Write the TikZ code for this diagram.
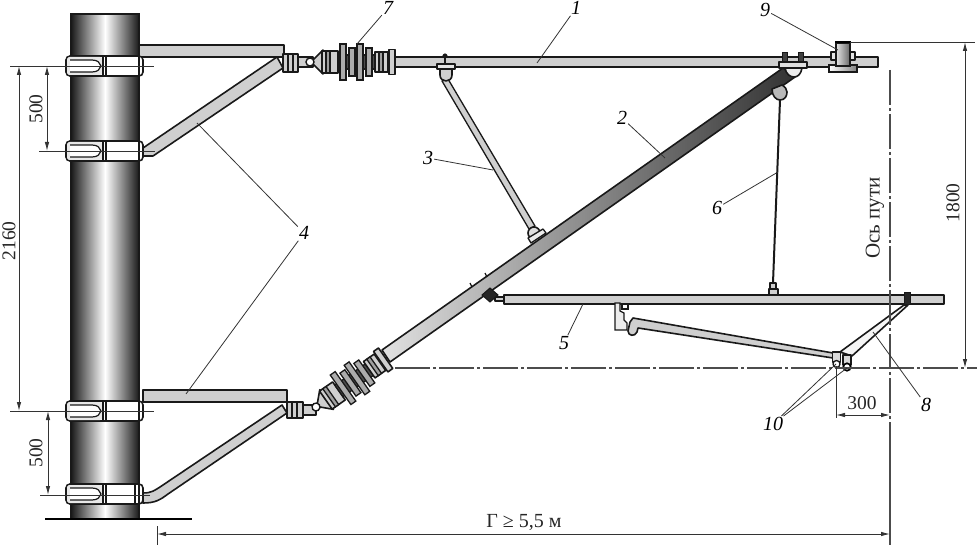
\documentclass[tikz,border=0pt]{standalone}
\usepackage{fontspec}
\setmainfont{Liberation Serif}
\usetikzlibrary{arrows.meta}
\tikzset{
	part/.style={draw=black!90,fill=gray!38,line width=1.6pt,line join=round},
	thinpart/.style={draw=black!90,fill=gray!60,line width=1.3pt},
	darkpart/.style={draw=black!90,fill=black!75,line width=1pt},
	leader/.style={draw=black!80,line width=0.8pt},
	dimline/.style={draw=black!80,line width=0.9pt,>={Latex[length=9pt,width=4.5pt]}},
	axisline/.style={draw=black!70,line width=1.1pt,dash pattern=on 35pt off 3pt on 3pt off 3pt},
	numlabel/.style={inner sep=1pt,font=\itshape\fontsize{20}{20}\selectfont},
	dimlabel/.style={inner sep=0pt,font=\fontsize{19.5}{20}\selectfont,text=black!85}
}
% insulator lying along the local x axis, eye at the origin
\newcommand{\insulatorbody}{
	\draw[part] (3,-2) -- (13,-12) -- (13,12) -- (3,2) -- cycle;
	\draw[part] (12,-11) rectangle (28,11);
	\draw[thinpart,fill=gray!75] (16,-11) rectangle (20,11);
	\draw[thinpart,fill=black!70] (28,-7) rectangle (66,7);
	\foreach \dx/\dh in {33/18,42/14,50/18,59/14}
		\draw[thinpart,fill=gray!65] (\dx-3,-\dh) rectangle (\dx+3,\dh);
	\draw[part] (65,-10) rectangle (78,10);
	\draw[thinpart,fill=gray!75] (69,-10) rectangle (73,10);
	\draw[part] (79,-12.5) rectangle (85,12.5);
}
\begin{document}
\begin{tikzpicture}[x=1pt,y=-1pt]
\useasboundingbox (0,0) rectangle (977,545);
% pole
\shade[left color=black!90,right color=black!90,middle color=white] (71,14) rectangle (139,519);
\draw[black!90,line width=1.4pt] (71,519) -- (71,14) -- (139,14) -- (139,519);
\draw[black,line width=1.8pt] (45,519) -- (192,519);

% horizontal brackets and struts
\draw[part] (139,45) rectangle (284,57);
\draw[part] (143,148) -- (277,57) -- (283,68) -- (153,156) -- (143,156) -- cycle;
\draw[part] (143,390) rectangle (287,402);
\draw[part] (143,493) .. controls (152,493) and (155,490) .. (160,487) -- (282,405)
	-- (287,413) -- (168,494) .. controls (160,500) and (155,503) .. (143,503) -- cycle;

% band clamps on the pole
\foreach \cy in {66,151,411,494}{
	\begin{scope}[shift={(0,\cy)}]
		\draw[fill=white,draw=black!90,line width=1.6pt,rounded corners=4pt] (66,-10) rectangle (143,10);
		\fill[gray!18,rounded corners=3pt] (67,-9) rectangle (103,9);
		\draw[fill=white,draw=black!90,line width=1.2pt] (70,-6) -- (92,-6) .. controls (98,-6) and (100,-3) .. (101,0)
			.. controls (100,3) and (98,6) .. (92,6) -- (70,6);
		\draw[black!90,line width=1.2pt] (103,-10) -- (103,10) (106,-10) -- (106,10) (139,-10) -- (139,10);
	\end{scope}
}
\draw[black!90,line width=1.2pt] (135,484) -- (135,504);

% upper insulator and rod 1
\draw[part] (395,57) rectangle (878,67);
\draw[part] (297,57) rectangle (313,67);
\draw[part] (283,54) rectangle (298,72);
\draw[black!90,line width=1.2pt] (288,54) -- (288,72) (293,54) -- (293,72);
\begin{scope}[shift={(310,62)}]
	\insulatorbody
	\draw[fill=white,draw=black!90,line width=1.4pt] (0,0) circle (4);
\end{scope}

% main rod 2 with lower insulator
\draw[draw=black!90,line width=1.6pt,left color=black!12,right color=black!80,line join=round]
	(382,350) -- (783,68) -- (795,77) -- (390,362) -- cycle;
\draw[part] (303,405) rectangle (316,415);
\draw[part] (287,402) rectangle (303,418);
\draw[black!90,line width=1.2pt] (292,402) -- (292,418) (297,402) -- (297,418);
\begin{scope}[shift={(316,407)},rotate=35]
	\insulatorbody
	\draw[fill=white,draw=black!90,line width=1.4pt] (0,0) circle (4);
\end{scope}
\draw[black!90,line width=1.2pt] (472,287) -- (470,283) (487,277) -- (485,273);

% strut 3 with its fittings
\draw[part,line width=1.3pt] (442,81) -- (448,79) -- (535,226) -- (529,229) -- cycle;
\draw[black!90,fill=black!90] (445,56) circle (2.3);
\draw[black!90,line width=1.2pt] (445,56) -- (445,64);
\draw[part,fill=gray!20] (437,64) rectangle (455,69);
\draw[part] (440,69) -- (440,75) .. controls (440,79) and (443,81) .. (446,81)
	.. controls (449,81) and (452,79) .. (452,75) -- (452,69) -- cycle;
\draw[part,fill=gray!25] (534,233) circle (6);
\draw[part,fill=gray!15,line width=1.3pt] (528,238) -- (543,229) -- (546,233) -- (531,243) -- cycle;

% head of rod 2 and clamp on rod 1
\draw[darkpart] (782,53) rectangle (787,62) (798,53) rectangle (803,62);
\draw[part,fill=gray!15] (785,68) .. controls (786,74) and (790,77) .. (794,77)
	.. controls (798,77) and (801,74) .. (802,68) -- cycle;
\draw[part,fill=gray!25] (779,62) rectangle (807,68);
\draw[part,fill=gray!55] (772,89) .. controls (772,96) and (776,100) .. (780,100)
	.. controls (785,100) and (787,96) .. (787,92) .. controls (787,89) and (785,87) .. (782,85) -- cycle;

% hanger 6
\draw[black!90,line width=2pt] (780,100) -- (773,283);
\draw[part,line width=1.2pt] (770,283) rectangle (776,290);
\draw[part,line width=1.2pt] (769,289) rectangle (778,295);

% clamp 9
\draw[draw=black!90,line width=1.5pt,left color=white,right color=black!50] (829,65) rectangle (857,72);
\draw[part,fill=gray!20] (831,52) rectangle (855,60);
\draw[draw=black!90,line width=1.3pt,left color=black!10,right color=black!60] (836,43) rectangle (850,66);
\draw[draw=black,line width=2.2pt] (835,42) -- (851,42);

% contact wire rod 5
\draw[part,line width=1.2pt] (495,297) rectangle (504,301);
\draw[darkpart,fill=black!85] (482,295) -- (490,288) -- (498,295) -- (490,302) -- cycle;
\draw[part] (504,295) rectangle (944,304);
\draw[darkpart,fill=black!85] (904,293) rectangle (910,305);

% steady arm with its clamp
\draw[fill=gray!15,draw=black!90,line width=1.3pt] (615,303) -- (615,330) -- (627,330) -- (627,323) -- (624,320)
	-- (624,313) -- (620,311) -- (620,303) -- cycle;
\draw[fill=white,draw=black!90,line width=1.2pt] (622,304) rectangle (628,309);
\draw[part] (633,318) -- (833,353) -- (833,358) -- (638,328) -- (637,332)
	.. controls (635,337) and (628,336) .. (628,331) -- (630,322) -- cycle;

% registration arm 8
\draw[part,fill=gray!8] (840,352) -- (904,305) -- (908,305) -- (852,356) -- cycle;
\draw[part,fill=gray!30,line width=1.3pt] (832.5,352) rectangle (840.5,362);
\draw[part,fill=white,line width=1.3pt] (836.5,364) circle (3.5);
\draw[part,fill=gray!30,line width=1.3pt] (843,355) rectangle (851,365);
\draw[draw=black,fill=white,line width=1.7pt] (847,367) circle (3.7);

% track axis and overlap level
\draw[axisline] (395,368) -- (977,368);
\draw[axisline] (890,70) -- (890,440);
\draw[black!70,line width=1.1pt] (890,440) -- (890,545);
\node[dimlabel,rotate=90,font=\fontsize{21}{21}\selectfont] (axislabel) at (875,218) {Ось пути};

% dimensions
\draw[dimline] (10,66) -- (154,66);
\draw[dimline] (39,151) -- (155,151);
\draw[dimline] (10,411) -- (154,411);
\draw[dimline] (40,495) -- (150,495);
\draw[dimline,<->] (19,66) -- (19,411);
\draw[dimline,<->] (47,66) -- (47,151);
\draw[dimline,<->] (48,411) -- (48,495);
\node[dimlabel,rotate=90] (dimtwo) at (9,241) {2160};
\node[dimlabel,rotate=90] (dimfirst) at (36,109) {500};
\node[dimlabel,rotate=90] (dimsecond) at (36,453) {500};
\draw[dimline] (157,526) -- (157,545);
\draw[dimline,<->] (157,534) -- (890,534);
\node[dimlabel,font=\fontsize{20}{20}\selectfont] (dimgauge) at (524,522) {Г ≥ 5,5 м};
\draw[dimline] (850,42) -- (975,42);
\draw[dimline,<->] (965,42) -- (965,368);
\node[dimlabel,rotate=90] (dimheight) at (953,203) {1800};
\draw[dimline] (836,366) -- (836,418);
\draw[dimline,<->] (836,415) -- (890,415);
\node[dimlabel] (dimstagger) at (862,403) {300};

% numbers and their leaders
\node[numlabel] (lone) at (576,8) {1};
\node[numlabel] (ltwo) at (622,118) {2};
\node[numlabel] (lthree) at (428,158) {3};
\node[numlabel] (lfour) at (304,233) {4};
\node[numlabel] (lfive) at (564,343) {5};
\node[numlabel] (lsix) at (717,208) {6};
\node[numlabel] (lseven) at (388,8) {7};
\node[numlabel] (leight) at (926,405) {8};
\node[numlabel] (lnine) at (765,10) {9};
\node[numlabel] (lten) at (773,424) {10};
\coordinate (pone) at (537,63);
\coordinate (ptwo) at (665,158);
\coordinate (pthree) at (493,170);
\coordinate (pfoura) at (197,123);
\coordinate (pfourb) at (186,394);
\coordinate (pfive) at (583,304);
\coordinate (psix) at (778,172);
\coordinate (pseven) at (357,44);
\coordinate (peight) at (873,332);
\coordinate (pnine) at (838,50);
\coordinate (ptena) at (836,364);
\coordinate (ptenb) at (847,368);
\draw[leader] (lone) -- (pone);
\draw[leader] (ltwo) -- (ptwo);
\draw[leader] (lthree) -- (pthree);
\draw[leader] (lfour) -- (pfoura);
\draw[leader] (lfour) -- (pfourb);
\draw[leader] (lfive) -- (pfive);
\draw[leader] (lsix) -- (psix);
\draw[leader] (lseven) -- (pseven);
\draw[leader] (leight) -- (peight);
\draw[leader] (lnine) -- (pnine);
\draw[leader] (lten) -- (ptena);
\draw[leader] (lten) -- (ptenb);
\end{tikzpicture}
\end{document}
